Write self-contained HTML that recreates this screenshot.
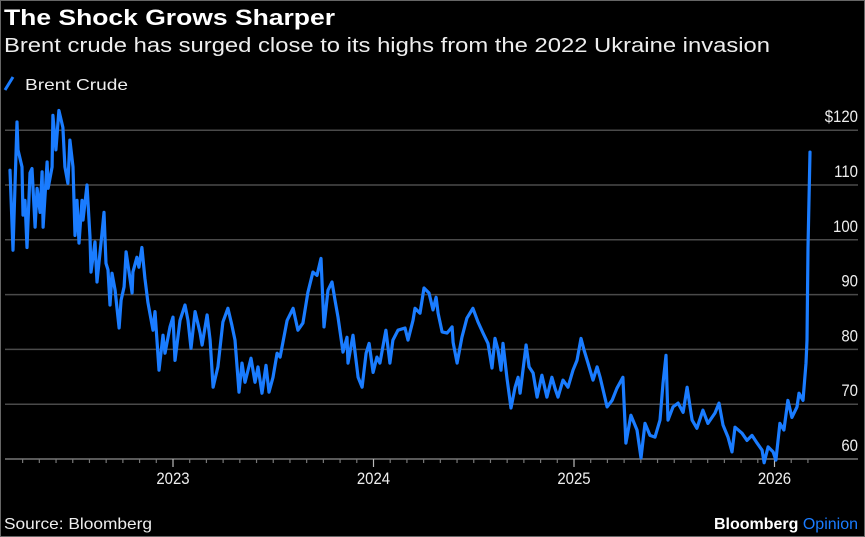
<!DOCTYPE html>
<html><head><meta charset="utf-8"><style>
html,body{margin:0;padding:0;background:#000;}
svg{display:block;font-family:"Liberation Sans Narrow","Liberation Sans",sans-serif;}
</style></head><body>
<svg id="chart" width="865" height="537" viewBox="0 0 865 537" xmlns="http://www.w3.org/2000/svg">
<rect x="0" y="0" width="865" height="537" fill="#000"/>
<rect x="0.5" y="0.5" width="864" height="536" fill="none" stroke="#666" stroke-width="1"/>
<text x="4" y="25" fill="#fff" font-size="22" font-weight="bold" textLength="331" lengthAdjust="spacingAndGlyphs">The Shock Grows Sharper</text>
<text x="4" y="52" fill="#eee" font-size="20" textLength="766" lengthAdjust="spacingAndGlyphs">Brent crude has surged close to its highs from the 2022 Ukraine invasion</text>
<line x1="5" y1="90" x2="13" y2="77" stroke="#1a7cff" stroke-width="3"/>
<text x="25" y="90" fill="#eee" font-size="16" textLength="103" lengthAdjust="spacingAndGlyphs">Brent Crude</text>
<g id="grid"></g>
<g id="xaxis"></g>
<g id="series"></g>
<text x="4" y="529" fill="#eee" font-size="16" textLength="148" lengthAdjust="spacingAndGlyphs">Source: Bloomberg</text>
<text x="858" y="529" fill="#fff" font-size="16" text-anchor="end" font-weight="bold">Bloomberg <tspan fill="#1a7cff" font-weight="normal">Opinion</tspan></text>
</svg>
<script>
const yTicks = [60,70,80,90,100,110,120];
const yTickLabels = ["60","70","80","90","100","110","$120"];
const xYears = [2023,2024,2025,2026];
const xYearLabels = ["2023","2024","2025","2026"];
const dates = [2022.187,2022.202,2022.222,2022.227,2022.247,2022.252,2022.262,2022.272,2022.287,2022.297,2022.312,2022.322,2022.337,2022.347,2022.352,2022.372,2022.377,2022.397,2022.401,2022.416,2022.431,2022.451,2022.461,2022.476,2022.486,2022.501,2022.511,2022.521,2022.531,2022.546,2022.551,2022.571,2022.586,2022.591,2022.611,2022.621,2022.646,2022.656,2022.666,2022.676,2022.686,2022.696,2022.711,2022.731,2022.741,2022.756,2022.766,2022.796,2022.800,2022.820,2022.830,2022.845,2022.860,2022.875,2022.900,2022.910,2022.930,2022.950,2022.960,2022.985,2023.000,2023.010,2023.035,2023.060,2023.075,2023.090,2023.110,2023.135,2023.145,2023.170,2023.185,2023.200,2023.224,2023.249,2023.274,2023.294,2023.309,2023.329,2023.344,2023.359,2023.389,2023.409,2023.424,2023.444,2023.464,2023.479,2023.499,2023.519,2023.534,2023.569,2023.599,2023.623,2023.648,2023.673,2023.698,2023.718,2023.738,2023.753,2023.773,2023.793,2023.808,2023.823,2023.848,2023.868,2023.873,2023.898,2023.923,2023.943,2023.963,2023.978,2023.998,2024.017,2024.032,2024.062,2024.082,2024.097,2024.122,2024.157,2024.172,2024.197,2024.207,2024.232,2024.252,2024.277,2024.297,2024.312,2024.322,2024.342,2024.367,2024.392,2024.397,2024.417,2024.441,2024.466,2024.496,2024.521,2024.546,2024.571,2024.591,2024.606,2024.621,2024.636,2024.646,2024.666,2024.686,2024.706,2024.721,2024.731,2024.761,2024.776,2024.796,2024.816,2024.840,2024.865,2024.890,2024.905,2024.920,2024.945,2024.970,2024.995,2025.015,2025.035,2025.050,2025.070,2025.095,2025.115,2025.130,2025.165,2025.190,2025.214,2025.244,2025.259,2025.284,2025.314,2025.334,2025.354,2025.379,2025.404,2025.429,2025.444,2025.459,2025.469,2025.494,2025.519,2025.544,2025.564,2025.589,2025.613,2025.643,2025.668,2025.703,2025.723,2025.743,2025.768,2025.788,2025.803,2025.838,2025.863,2025.888,2025.913,2025.938,2025.948,2025.968,2025.993,2026.007,2026.027,2026.047,2026.067,2026.087,2026.112,2026.122,2026.142,2026.157,2026.162,2026.167,2026.177];
const brentPrices = [112.7,98.1,121.5,116.4,113.3,104.5,107.2,98.6,112.2,113,102.3,109.4,105,112.4,102.3,114.2,109.4,113.3,122.7,116.4,123.6,120.5,113.3,110.3,118.2,113.3,100.8,107.2,99.4,107.2,103.6,110,100.5,94.1,99.6,92.3,101.2,105,95.7,94.5,88.1,93.9,90.8,83.9,89,91.4,97.8,90.3,94.1,96.8,95,98.6,93,88.6,83.5,86.9,76.2,82.6,79.3,84.1,85.9,78,85.3,88.1,85.3,80.2,86.9,83,80.8,86.3,81.7,73.1,76.8,85,87.5,84.4,81.7,72.2,77.5,74,78.4,74,76.8,72,77.1,72.2,74.9,79.3,78.6,85.3,87.5,83.5,84.8,90.4,94.1,93.5,96.6,84.1,90.8,92.3,89,85.9,79.5,82.2,77.5,82.6,74.9,73.1,79.3,81.1,75.8,78.6,77.5,83.5,77.5,81.7,83.5,83.9,81.7,85.3,87.5,86.6,91.2,90.3,87.2,89.5,86.6,83.2,83,84.1,81.3,77.5,82.2,85.7,87.5,85,83,81.1,76.6,82,79.9,76.2,81.1,74.7,69.3,73.1,74.9,72,80.8,76.8,75.7,71.3,75.3,71.3,74.9,72.9,71.3,74.4,73.1,76.2,78,82,79.9,77.5,74.4,76.8,74.9,69.5,70.7,72.9,74.9,62.9,68,65.3,60.2,66.5,64.3,64,67.1,73.8,78.9,67.1,69.5,70.2,68.5,73.1,67.1,65.6,68.9,66.5,68.4,70.2,66.2,64,61.3,65.8,64.7,63.4,64.3,62.9,61.6,59.3,62.2,61.3,59.8,66.5,65.3,70.7,67.6,69.5,72,70.7,77.5,81.7,98.6,116];

const NS = "http://www.w3.org/2000/svg";
const x = t => 173 + (t - 2023) * 200.5;
const y = v => 459 - (v - 60) * 5.48;
function mk(tag, attrs, parent){ const e=document.createElementNS(NS,tag); for(const k in attrs) e.setAttribute(k,attrs[k]); parent.appendChild(e); return e; }

const grid = document.getElementById('grid');
yTicks.forEach((v,i)=>{
  if (v > 60) {
    const l = mk('line',{x1:5,x2:858,y1:y(v),y2:y(v),stroke:'#4a4a4a','stroke-width':1.5},grid);
    
    
  }
  const t = mk('text',{x:858/0.88,y:y(v)-8,fill:'#eee','font-size':17,'text-anchor':'end',transform:'scale(0.88,1)'},grid);
  t.textContent = yTickLabels[i];
  
  
});

const xa = document.getElementById('xaxis');
const axl = mk('line',{x1:5,x2:858,y1:459,y2:459,stroke:'#777','stroke-width':1.5},xa);


for (let m = 2022*12+3; m <= 2026*12+2; m++) {
  const t = m/12;
  const px = x(t);
  if (px < 6 || px > 858) continue;
  const major = (m % 12 === 0);
  const tk = mk('line',{x1:px,x2:px,y1:459,y2:major?467:463,stroke:major?'#bbb':'#777','stroke-width':1.2},xa);
  
  
}
xYears.forEach((yr,i)=>{
  const t = mk('text',{x:x(yr)/0.88,y:484,fill:'#eee','font-size':17,'text-anchor':'middle',transform:'scale(0.88,1)'},xa);
  t.textContent = xYearLabels[i];
  
  
});

const series = document.getElementById('series');
const d = dates.map((t,i)=> (i?'L':'M') + x(t).toFixed(1) + ' ' + y(brentPrices[i]).toFixed(1)).join(' ');
const path = mk('path',{d:d,fill:'none',stroke:'#1a7cff','stroke-width':3.2,'stroke-linejoin':'round','stroke-linecap':'round'},series);


</script>
</body></html>
